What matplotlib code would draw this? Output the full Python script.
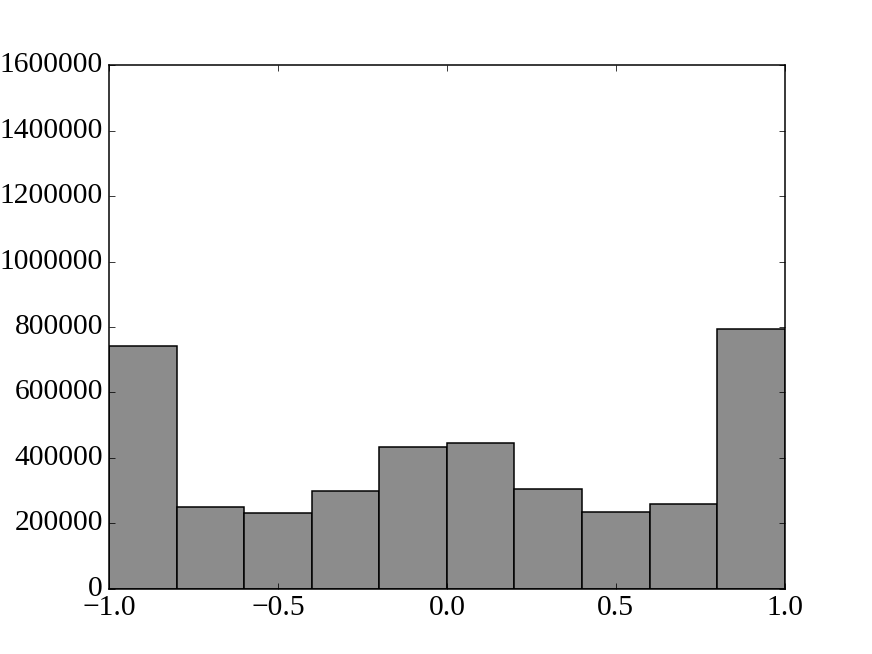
import numpy as np
import matplotlib
matplotlib.use("Agg")
import matplotlib.pyplot as plt

# bin edges and counts
bin_edges = np.linspace(-1.0, 1.0, 11)
counts = [740500, 248500, 231300, 298800, 433700, 446000, 305000, 234400, 259800, 792600]

plt.style.use("classic")
plt.rcParams["font.family"] = ["Liberation Serif", "DejaVu Serif"]

fig = plt.figure(figsize=(8, 6), dpi=109)
ax = fig.add_subplot(111)

centers = (bin_edges[:-1] + bin_edges[1:]) / 2
ax.hist(centers, bins=bin_edges, weights=counts, color="#8c8c8c", edgecolor="black", linewidth=1.0)

ax.set_xlim(-1.0, 1.0)
ax.set_ylim(0, 1600000)
ax.set_xticks([-1.0, -0.5, 0.0, 0.5, 1.0])
ax.tick_params(labelsize=19.5)

fig.savefig("out.png", dpi=109)
